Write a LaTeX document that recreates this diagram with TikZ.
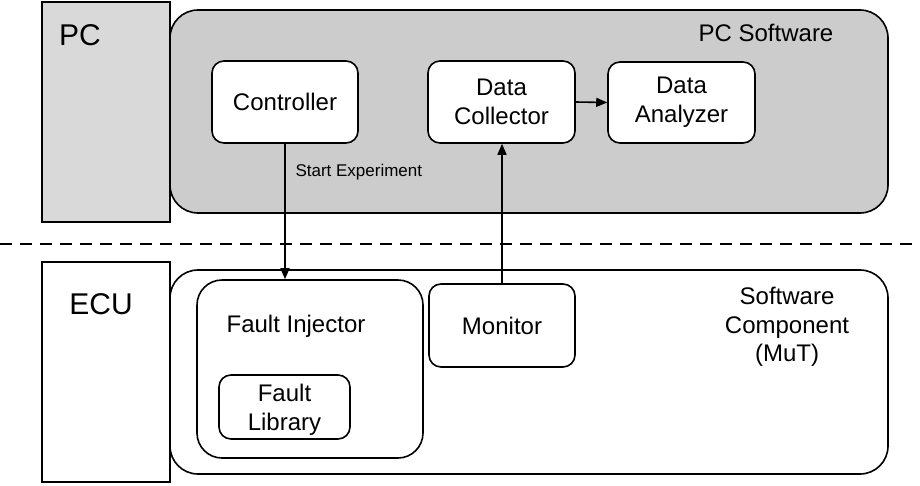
\documentclass[tikz,border=0pt]{standalone}
\usepackage{fontspec}
\setmainfont{Liberation Sans}
\usetikzlibrary{arrows.meta}
\definecolor{pcgray}{HTML}{D9D9D9}
\definecolor{swgray}{HTML}{CCCCCC}
\begin{document}
\begin{tikzpicture}[x=1pt,y=-1pt,
  frame/.style={draw, line width=1.6pt, inner sep=0pt},
  box/.style={frame, fill=white, rounded corners=12pt, align=center, font=\fontsize{24}{29}\selectfont},
  big/.style={font=\fontsize{30}{36}\selectfont},
  lbl/.style={font=\fontsize{24}{28.5}\selectfont, align=center},
  small/.style={font=\fontsize{17}{20}\selectfont},
  arr/.style={line width=1.6pt, -{Triangle[length=11pt,width=9pt]}}]
\useasboundingbox (0,0) rectangle (920,485);
% upper part
\node[frame, fill=pcgray, minimum width=128, minimum height=220] (pc) at (106,112) {};
\node[big] (pclabel) at (80,35) {PC};
\node[frame, fill=swgray, rounded corners=28pt, minimum width=718, minimum height=203] (pcsw) at (529,111.5) {};
\node[lbl] (pcswlabel) at (766,33) {PC Software};
\node[box, minimum width=146, minimum height=82] (ctrl) at (285,102) {Controller};
\node[box, minimum width=147, minimum height=82] (dc) at (501.5,102) {Data\\Collector};
\node[box, minimum width=147, minimum height=81] (da) at (681.5,102.5) {Data\\Analyzer};
% divider
\coordinate (dl) at (0,244);
\coordinate (dr) at (920,244);
\draw[line width=2pt, dash pattern=on 12pt off 8pt] (dl) -- (dr);
% lower part
\node[frame, fill=white, minimum width=128, minimum height=220] (ecu) at (106,372) {};
\node[big] (eculabel) at (101,304) {ECU};
\node[frame, fill=white, rounded corners=28pt, minimum width=718, minimum height=204] (swc) at (529,372) {};
\node[lbl] (swclabel) at (787,327) {Software\\Component\\(MuT)};
\node[frame, fill=white, rounded corners=25pt, minimum width=226, minimum height=178] (fi) at (310,369) {};
\node[lbl] (filabel) at (296,326) {Fault Injector};
\node[frame, fill=white, rounded corners=12pt, minimum width=131, minimum height=64] (fl) at (284.5,407) {};
\node[lbl] (fllabel) at (284.5,410) {Fault\\Library};
\node[box, minimum width=146, minimum height=83] (mon) at (502,325.5) {Monitor};
% connectors
\draw[arr] (ctrl.south) -- (ctrl.south |- fi.north);
\node[small, anchor=west] (selabel) at (292,172) {Start Experiment};
\draw[arr] (mon.north) -- (mon.north |- dc.south);
\draw[arr] (dc.east) -- (da.west);
\end{tikzpicture}
\end{document}
